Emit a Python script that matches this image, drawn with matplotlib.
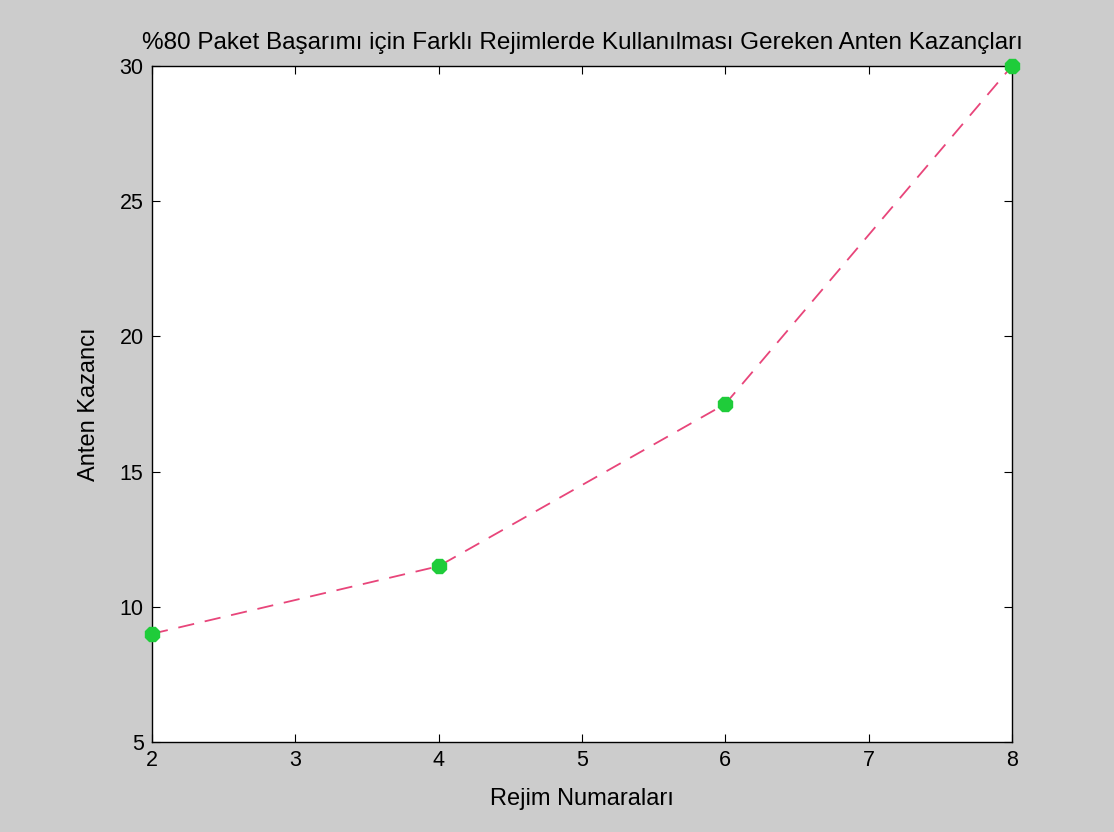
import numpy as np
import matplotlib.pyplot as plt

plt.rcParams['font.family'] = ['Liberation Sans', 'DejaVu Sans']

# rejim numaralari ve gereken anten kazanclari
rejim = [2, 4, 6, 8]
kazanc = [9, 11.5, 17.5, 30]

fig = plt.figure(figsize=(11.14, 8.32), dpi=100, facecolor='#cccccc')
ax = fig.add_axes([0.1364, 0.1082, 0.772, 0.8125])
ax.set_facecolor('white')

ax.plot(rejim, kazanc, color='#e8457a', linestyle=(0, (9, 6)), linewidth=1.3,
        marker='8', markersize=11, markerfacecolor='#1fcc3a',
        markeredgecolor='#1fcc3a', clip_on=False, zorder=3)

ax.set_xlim(2, 8)
ax.set_ylim(5, 30)
ax.set_xticks(range(2, 9))
ax.set_yticks([5, 10, 15, 20, 25, 30])
ax.tick_params(direction='in', top=True, right=True, length=6,
               labelsize=15.5, pad=6)
for s in ax.spines.values():
    s.set_linewidth(1.0)

ax.set_title('%80 Paket Başarımı için Farklı Rejimlerde Kullanılması Gereken Anten Kazançları',
             fontsize=17.5, pad=12)
ax.set_xlabel('Rejim Numaraları', fontsize=17, labelpad=12)
ax.set_ylabel('Anten Kazancı', fontsize=17, labelpad=14)

fig.savefig('out.png', dpi=100, facecolor=fig.get_facecolor())
